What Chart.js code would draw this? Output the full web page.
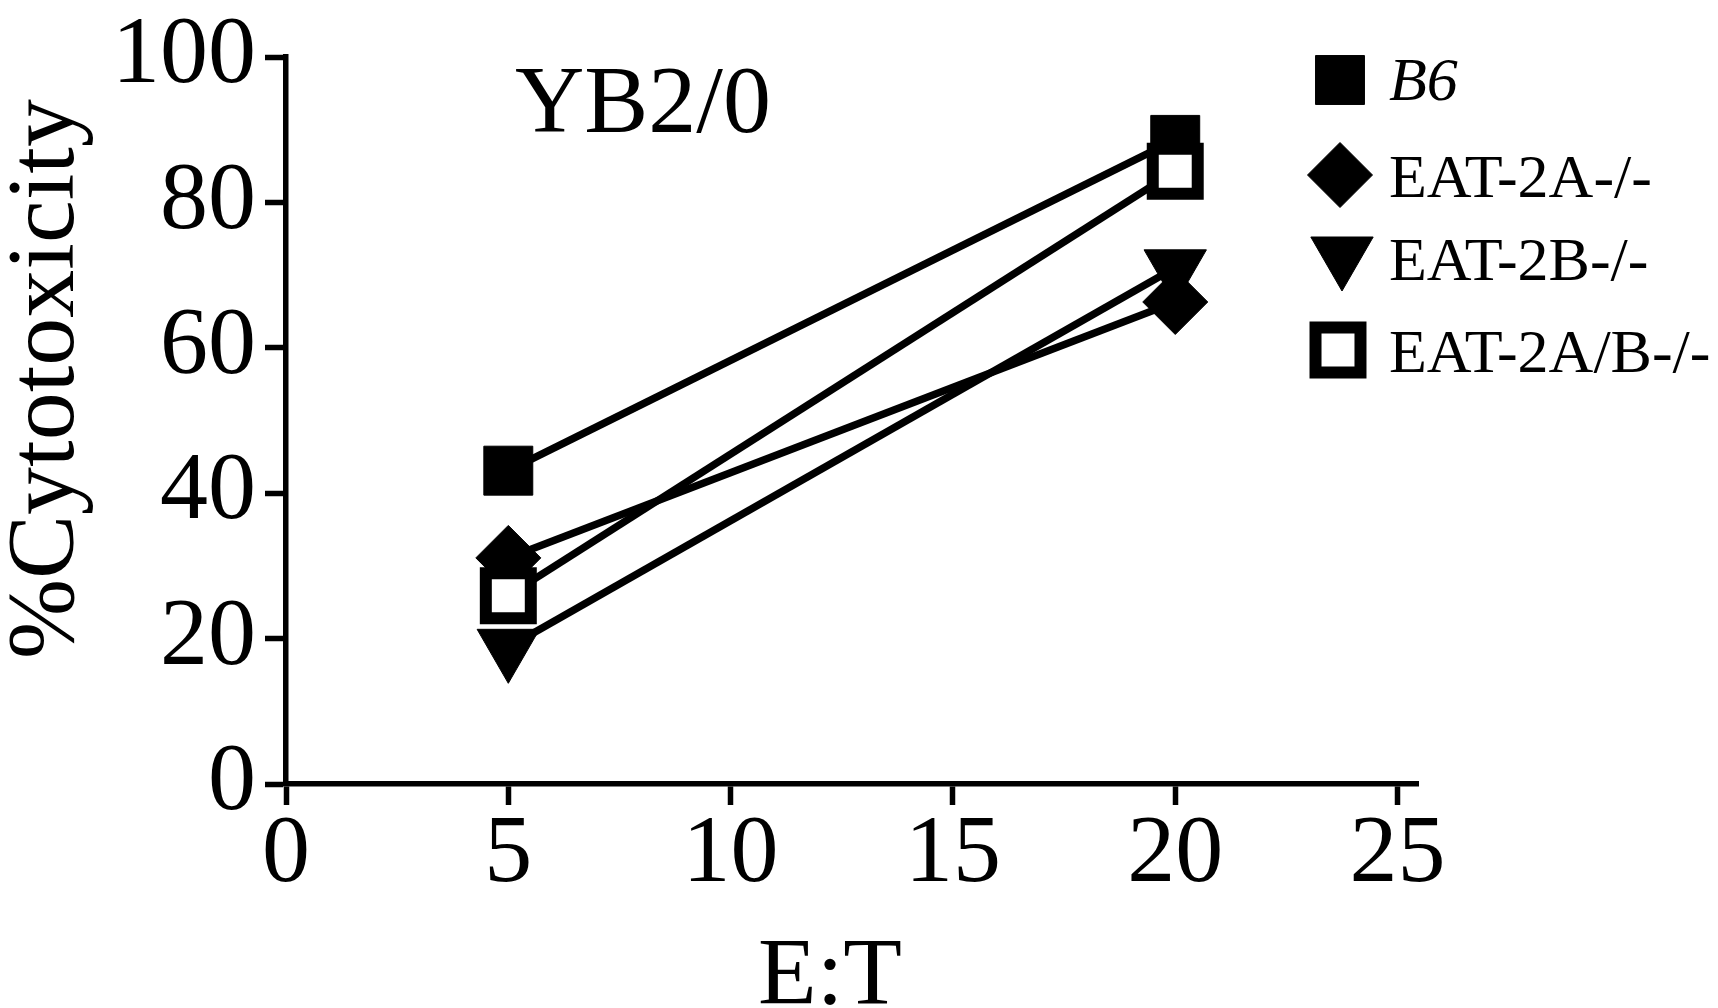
<!DOCTYPE html>
<html><head><meta charset="utf-8">
<script src="https://cdn.jsdelivr.net/npm/chart.js@4.4.1/dist/chart.umd.min.js"></script>
<style>html,body{margin:0;padding:0;background:#fff;overflow:hidden;} canvas{display:block;}</style>
</head><body>
<canvas id="c" width="1718" height="1008"></canvas>
<script>
// ---- data ----
const ratios = [5, 20];
const seriesNames = ['B6', 'EAT-2A-/-', 'EAT-2B-/-', 'EAT-2A/B-/-'];
const b6 = [43.1, 88.6];
const eat2A = [31.1, 66.3];
const eat2B = [18.8, 71.0];
const eat2AB = [25.9, 84.3];
const xTickValues = [0, 5, 10, 15, 20, 25];
const yTickValues = [0, 20, 40, 60, 80, 100];
const panelLabel = 'YB2/0';
const xTitle = 'E:T';
const yTitle = '%Cytotoxicity';

const FONT = "'Liberation Serif', 'Times New Roman', serif";

function pts(vals) { return ratios.map((x, i) => ({x: x, y: vals[i]})); }

const styles = [
  {pointStyle: 'rect', radius: 34.6, rotation: 0, bg: '#000', bw: 1, order: 1},
  {pointStyle: 'rectRot', radius: 32.5, rotation: 0, bg: '#000', bw: 1, order: 2},
  {pointStyle: 'triangle', radius: 36, rotation: 180, bg: '#000', bw: 1, order: 3},
  {pointStyle: 'rect', radius: 31.8, rotation: 0, bg: '#fff', bw: 12, order: 0}
];
const seriesVals = [b6, eat2A, eat2B, eat2AB];

const datasets = seriesVals.map((v, i) => ({
  label: seriesNames[i],
  data: pts(v),
  order: styles[i].order,
  borderColor: '#000',
  borderWidth: 7.5,
  tension: 0,
  fill: false,
  clip: false,
  pointStyle: styles[i].pointStyle,
  pointRotation: styles[i].rotation,
  pointRadius: styles[i].radius,
  pointHoverRadius: styles[i].radius,
  pointBackgroundColor: styles[i].bg,
  pointBorderColor: '#000',
  pointBorderWidth: styles[i].bw,
  pointHoverBorderWidth: styles[i].bw
}));

const legendPos = [
  {x: 1340, y: 80, ty: 100, italic: true},
  {x: 1340, y: 175, ty: 197, italic: false},
  {x: 1342, y: 255, ty: 280, italic: false},
  {x: 1338, y: 350, ty: 372, italic: false}
];

const overlay = {
  id: 'overlay',
  afterDraw(chart) {
    const ctx = chart.ctx;
    ctx.save();
    ctx.fillStyle = '#000';
    ctx.textBaseline = 'alphabetic';
    ctx.textAlign = 'left';
    ctx.font = '96px ' + FONT;
    ctx.fillText(panelLabel, 515, 132);

    // axis titles
    ctx.textAlign = 'center';
    ctx.fillText(xTitle, 830, 1004);
    ctx.save();
    ctx.translate(73, 379);
    ctx.rotate(-Math.PI / 2);
    ctx.fillText(yTitle, 0, 0);
    ctx.restore();

    ctx.textAlign = 'left';
    chart.data.datasets.forEach((ds, i) => {
      const p = legendPos[i];
      ctx.save();
      ctx.fillStyle = ds.pointBackgroundColor;
      ctx.strokeStyle = ds.pointBorderColor;
      ctx.lineWidth = ds.pointBorderWidth;
      Chart.helpers.drawPoint(ctx, {
        pointStyle: ds.pointStyle, rotation: ds.pointRotation,
        radius: ds.pointRadius, borderWidth: ds.pointBorderWidth
      }, p.x, p.y);
      ctx.restore();
      ctx.fillStyle = '#000';
      ctx.font = (p.italic ? 'italic ' : '') + '62px ' + FONT;
      ctx.fillText(ds.label, 1389, p.ty);
    });
    ctx.restore();
  }
};

new Chart(document.getElementById('c'), {
  type: 'line',
  data: {datasets: datasets},
  options: {
    responsive: false,
    animation: false,
    devicePixelRatio: 1,
    events: [],
    layout: {padding: {top: 44, right: 300, left: 0, bottom: 0}},
    plugins: {legend: {display: false}, tooltip: {enabled: false}, title: {display: false}},
    scales: {
      x: {
        type: 'linear',
        min: 0,
        max: 25.46,
        afterBuildTicks(scale) { scale.ticks = xTickValues.map(v => ({value: v})); },
        afterFit(scale) { scale.height = 224; },
        grid: {drawOnChartArea: false, drawTicks: true, tickLength: 21, tickWidth: 5.5, tickColor: '#000'},
        border: {display: true, width: 5.5, color: '#000'},
        ticks: {color: '#000', padding: 3, maxRotation: 0, autoSkip: false,
          font: {family: FONT, size: 96, lineHeight: 1}},
        title: {display: false, text: xTitle}
      },
      y: {
        type: 'linear',
        min: 0,
        max: 100,
        afterBuildTicks(scale) { scale.ticks = yTickValues.map(v => ({value: v})); },
        afterFit(scale) { scale.width = 286; },
        grid: {drawOnChartArea: false, drawTicks: true, tickLength: 21, tickWidth: 5.5, tickColor: '#000'},
        border: {display: true, width: 5.5, color: '#000'},
        ticks: {color: '#000', padding: 9, autoSkip: false,
          font: {family: FONT, size: 96, lineHeight: 1}},
        title: {display: false, text: yTitle}
      }
    }
  },
  plugins: [overlay]
});
</script>
</body></html>
